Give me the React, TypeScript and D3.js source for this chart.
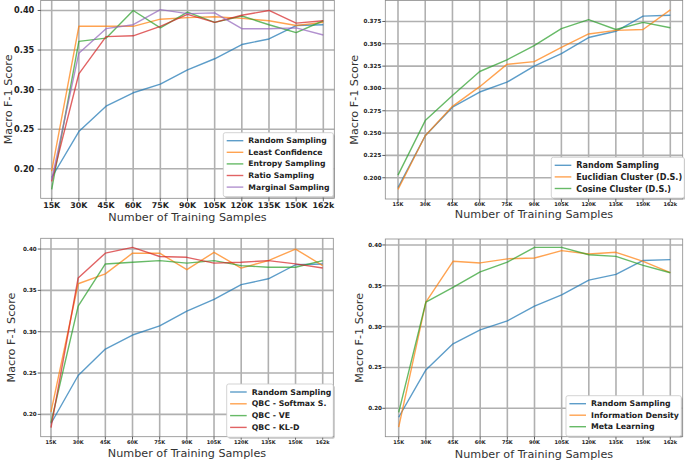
import * as React from 'react'
import * as d3 from 'd3'

// x categories
const samples = ['15K', '30K', '45K', '60K', '75K', '90K', '105K', '120K', '135K', '150K', '162k']

// shared baseline
const randomSampling = [0.189, 0.247, 0.279, 0.296, 0.307, 0.325, 0.339, 0.357, 0.364, 0.381, 0.382]

// top-left
const leastConfidence = [0.197, 0.380, 0.380, 0.380, 0.389, 0.391, 0.392, 0.390, 0.387, 0.381, 0.385]
const entropySampling = [0.174, 0.361, 0.365, 0.400, 0.378, 0.398, 0.385, 0.393, 0.382, 0.372, 0.387]
const ratioSampling = [0.184, 0.320, 0.367, 0.368, 0.380, 0.395, 0.385, 0.394, 0.400, 0.384, 0.387]
const marginalSampling = [0.186, 0.346, 0.377, 0.382, 0.401, 0.396, 0.397, 0.377, 0.377, 0.378, 0.369]

// top-right
const euclidianCluster = [0.187, 0.247, 0.280, 0.302, 0.327, 0.330, 0.346, 0.361, 0.365, 0.366, 0.388]
const cosineCluster = [0.203, 0.264, 0.292, 0.319, 0.332, 0.348, 0.367, 0.377, 0.366, 0.374, 0.368]

// bottom-left
const qbcSoftmax = [0.203, 0.358, 0.370, 0.395, 0.395, 0.375, 0.396, 0.377, 0.386, 0.400, 0.380]
const qbcVE = [0.190, 0.331, 0.382, 0.384, 0.386, 0.383, 0.386, 0.380, 0.378, 0.378, 0.386]
const qbcKLD = [0.184, 0.365, 0.395, 0.402, 0.391, 0.390, 0.383, 0.384, 0.386, 0.382, 0.377]

// bottom-right
const informationDensity = [0.177, 0.330, 0.380, 0.378, 0.383, 0.384, 0.393, 0.389, 0.391, 0.380, 0.366]
const metaLearning = [0.195, 0.330, 0.348, 0.367, 0.379, 0.397, 0.397, 0.388, 0.386, 0.375, 0.366]

const yTicksWide = [0.20, 0.25, 0.30, 0.35, 0.40]
const yTicksFine = [0.200, 0.225, 0.250, 0.275, 0.300, 0.325, 0.350, 0.375]

const C = { blue: '#1f77b4', orange: '#ff7f0e', green: '#2ca02c', red: '#d62728', purple: '#9467bd' }

interface Series { name: string; values: number[]; color: string }
interface PanelCfg {
  frame: [number, number, number, number] // left, right, top, bottom
  pts: [number, number]
  yDomain: [number, number]
  yTicks: number[]
  fmt: string
  tickFont: number
  xTickFont: number
  yLabelX: number
  yTickRight: number
  xTickY: number
  xLabelY: number
  series: Series[]
  legend: { x: number; y: number; w: number; rowH: number; font: number }
}

const panels: PanelCfg[] = [
  {
    frame: [40.7, 334.3, 0.5, 198.3], pts: [51.7, 323.3], yDomain: [0.1627, 0.4126],
    yTicks: yTicksWide, fmt: '.2f', tickFont: 8.2, xTickFont: 7.9, yLabelX: 8.5, yTickRight: 34.3,
    xTickY: 205, xLabelY: 217.3,
    series: [
      { name: 'Random Sampling', values: randomSampling, color: C.blue },
      { name: 'Least Confidence', values: leastConfidence, color: C.orange },
      { name: 'Entropy Sampling', values: entropySampling, color: C.green },
      { name: 'Ratio Sampling', values: ratioSampling, color: C.red },
      { name: 'Marginal Sampling', values: marginalSampling, color: C.purple },
    ],
    legend: { x: 223.3, y: 132.7, w: 110, rowH: 11.6, font: 7.7 },
  },
  {
    frame: [385.3, 682.7, 0.5, 199], pts: [398, 670.3], yDomain: [0.1762, 0.3985],
    yTicks: yTicksFine, fmt: '.3f', tickFont: 5.6, xTickFont: 5, yLabelX: 354.5, yTickRight: 381.3,
    xTickY: 204, xLabelY: 214.3,
    series: [
      { name: 'Random Sampling', values: randomSampling, color: C.blue },
      { name: 'Euclidian Cluster (D.S.)', values: euclidianCluster, color: C.orange },
      { name: 'Cosine Cluster (D.S.)', values: cosineCluster, color: C.green },
    ],
    legend: { x: 551.3, y: 157.3, w: 133, rowH: 11.6, font: 8.1 },
  },
  {
    frame: [40.7, 333.3, 238.3, 436.7], pts: [51, 322.7], yDomain: [0.173, 0.413],
    yTicks: yTicksWide, fmt: '.2f', tickFont: 5.6, xTickFont: 5, yLabelX: 11.7, yTickRight: 36.7,
    xTickY: 442.3, xLabelY: 453.5,
    series: [
      { name: 'Random Sampling', values: randomSampling, color: C.blue },
      { name: 'QBC - Softmax S.', values: qbcSoftmax, color: C.orange },
      { name: 'QBC - VE', values: qbcVE, color: C.green },
      { name: 'QBC - KL-D', values: qbcKLD, color: C.red },
    ],
    legend: { x: 226.7, y: 384, w: 106.6, rowH: 11.8, font: 7.8 },
  },
  {
    frame: [385.3, 682.7, 239, 436.7], pts: [398.7, 670.3], yDomain: [0.1652, 0.4073],
    yTicks: yTicksWide, fmt: '.2f', tickFont: 5.6, xTickFont: 5, yLabelX: 359, yTickRight: 382,
    xTickY: 442.3, xLabelY: 454,
    series: [
      { name: 'Random Sampling', values: randomSampling, color: C.blue },
      { name: 'Information Density', values: informationDensity, color: C.orange },
      { name: 'Meta Learning', values: metaLearning, color: C.green },
    ],
    legend: { x: 566, y: 395.7, w: 115.3, rowH: 11.5, font: 7.8 },
  },
]

const font = 'DejaVu Sans, sans-serif'

const Panel = ({ p }: { p: PanelCfg }) => {
  const [l, r, t, b] = p.frame
  const x = d3.scalePoint<string>().domain(samples).range(p.pts)
  const y = d3.scaleLinear().domain(p.yDomain).range([b, t])
  const line = d3.line<number>().x((_, i) => x(samples[i]) as number).y(d => y(d))
  const fmt = d3.format(p.fmt)
  const lg = p.legend
  const lgH = p.series.length * lg.rowH + 6

  return (
    <g>
      <rect x={l} y={t} width={r - l} height={b - t} fill="#fff" />
      {samples.map(s => (
        <line key={s} x1={x(s)} x2={x(s)} y1={t} y2={b} stroke="#b0b0b0" strokeWidth={1.6} />
      ))}
      {p.yTicks.map(v => (
        <line key={v} x1={l} x2={r} y1={y(v)} y2={y(v)} stroke="#b0b0b0" strokeWidth={1.6} />
      ))}
      {p.series.map(s => (
        <path key={s.name} d={line(s.values) || ''} fill="none" stroke={s.color}
          strokeOpacity={0.72} strokeWidth={1.4} strokeLinejoin="round" />
      ))}
      <rect x={l} y={t} width={r - l} height={b - t} fill="none" stroke="#8a8a8a" strokeWidth={0.8} />
      {samples.map(s => (
        <g key={s}>
          <line x1={x(s)} x2={x(s)} y1={b} y2={b + 3} stroke="#333" strokeWidth={0.8} />
          <text x={x(s)} y={p.xTickY} textAnchor="middle" dominantBaseline="central"
            fontFamily={font} fontWeight="bold" fontSize={p.xTickFont} fill="#222">{s}</text>
        </g>
      ))}
      {p.yTicks.map(v => (
        <g key={v}>
          <line x1={l - 3} x2={l} y1={y(v)} y2={y(v)} stroke="#333" strokeWidth={0.8} />
          <text x={p.yTickRight} y={y(v)} textAnchor="end" dominantBaseline="central"
            fontFamily={font} fontWeight="bold" fontSize={p.tickFont} fill="#222">{fmt(v)}</text>
        </g>
      ))}
      <text x={(l + r) / 2} y={p.xLabelY} textAnchor="middle" dominantBaseline="central"
        fontFamily={font} fontSize={11.2} fill="#333">Number of Training Samples</text>
      <text transform={`translate(${p.yLabelX},${(t + b) / 2}) rotate(-90)`} textAnchor="middle"
        dominantBaseline="central" fontFamily={font} fontSize={11.2} fill="#333">Macro F-1 Score</text>

      <rect x={lg.x + 1.5} y={lg.y + 1.5} width={lg.w} height={lgH} rx={2} fill="#777" fillOpacity={0.45} />
      <rect x={lg.x} y={lg.y} width={lg.w} height={lgH} rx={2} fill="#fff" stroke="#c8c8c8" strokeWidth={0.8} />
      {p.series.map((s, i) => {
        const cy = lg.y + 8 + i * lg.rowH
        return (
          <g key={s.name}>
            <line x1={lg.x + 3.4} x2={lg.x + 20} y1={cy} y2={cy} stroke={s.color} strokeOpacity={0.72} strokeWidth={1.4} />
            <text x={lg.x + 25} y={cy} dominantBaseline="central" fontFamily={font} fontWeight="bold"
              fontSize={lg.font} fill="#222">{s.name}</text>
          </g>
        )
      })}
    </g>
  )
}

export default function App() {
  return (
    <svg width={685} height={461} style={{ position: 'absolute', left: 0, top: 0, background: '#fff' }}>
      {panels.map((p, i) => <Panel key={i} p={p} />)}
    </svg>
  )
}
